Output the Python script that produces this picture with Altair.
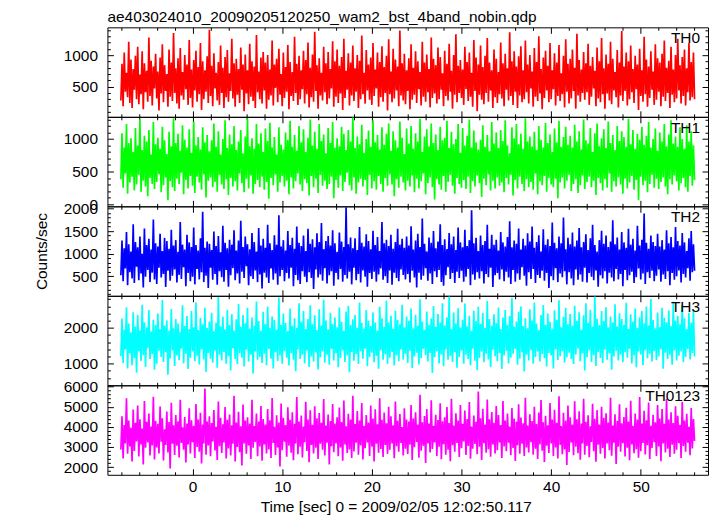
import altair as alt
import numpy as np
import pandas as pd

TITLE = "ae403024010_20090205120250_wam2_bst_4band_nobin.qdp"
Y_TITLE = "Counts/sec"
X_TITLE = "Time [sec] 0 = 2009/02/05 12:02:50.117"

T_START, T_END = -8.0, 56.0

TH0 = [280, 860, 190, 1040, 420, 720, 330, 1210, 240, 930, 160, 780, 450, 990, 300, 1130,
       220, 690, 380, 1060, 140, 870, 410, 750, 260, 1280, 350, 910, 200, 820, 470, 1020,
       310, 740, 120, 960, 390, 1170, 250, 840, 430, 700, 180, 1090, 340, 880, 270, 1350,
       400, 790, 230, 950, 150, 1110, 360, 730, 290, 1000, 460, 850, 210, 1240, 320, 770,
       170, 920, 440, 1070, 260, 810, 380, 1190, 130, 900, 300, 760, 420, 980, 240, 1400,
       350, 830, 190, 1030, 470, 720, 280, 890, 210, 1150, 400, 800, 160, 970, 330, 1080,
       260, 710, 430, 1260, 310, 870, 180, 940, 370, 780, 240, 1120, 450, 850, 110, 1010,
       390, 760, 220, 1180, 340, 900, 270, 820, 160, 1320, 410, 740, 300, 960, 230, 1050,
       440, 880, 150, 1000, 290, 770, 360, 1230, 200, 850, 480, 940, 250, 1100, 370, 700,
       190, 1040, 320, 810, 420, 1160, 140, 890, 350, 730, 270, 1290, 400, 860, 210, 990,
       300, 760, 460, 1070, 230, 920, 380, 1200, 170, 800, 330, 1010, 260, 1370, 430, 840,
       150, 950, 360, 720, 280, 1130, 410, 870, 220, 1050, 310, 780, 470, 1220, 180, 900,
       340, 1090, 240, 830, 390, 970, 130, 1260, 320, 750, 450, 1030, 200, 880, 360, 1150,
       270, 790, 420, 1000, 160, 910, 300, 1310, 380, 720, 230, 1080, 440, 850, 290, 960,
       210, 1190, 350, 770, 470, 1040, 180, 890, 330, 1140, 260, 810, 400, 990, 120, 1250,
       380, 740, 250, 1100, 310, 930, 440, 820, 190, 1390, 360, 870, 280, 1020, 220, 760,
       430, 950, 140, 1170, 290, 800, 370, 1060, 240, 900, 460, 730, 200, 1210, 340, 880,
       260, 1010, 410, 780, 170, 1280, 320, 940, 390, 840, 230, 1120, 300, 970, 450, 710,
       190, 1070, 350, 860, 280, 1180, 420, 750, 150, 1000, 370, 1330, 250, 830, 400, 920,
       320, 770, 210, 1130, 460, 890, 270, 1040, 340, 720, 180, 1240, 430, 960, 110, 850,
       370, 1150, 290, 810, 220, 990, 400, 1270, 260, 880, 440, 760, 160, 1090, 330, 940,
       240, 730, 380, 1200, 310, 870, 190, 1020, 450, 790, 280, 1360, 350, 900, 210, 1060,
       420, 820, 160, 980, 360, 1140, 250, 760, 300, 1230, 410, 850, 230, 1000, 470, 740,
       180, 1110, 340, 890, 270, 1300, 390, 780, 140, 960, 320, 1070, 440, 830, 250, 1190,
       300, 760, 460, 1030, 200, 880, 350, 1160, 270, 710, 380, 990, 170, 1250, 420, 860,
       230, 940, 310, 1090, 430, 800, 150, 1340, 360, 920, 260, 770, 400, 1050, 290, 870,
       410, 1180, 210, 830, 340, 970, 470, 750, 190, 1120, 310, 900, 250, 1270, 380, 790,
       150, 1010, 390, 860, 280, 1210, 220, 940, 440, 730, 330, 1080, 170, 880, 360, 1380,
       270, 820, 430, 1040, 200, 900, 300, 1150, 410, 780, 240, 990, 460, 850, 130, 1100,
       350, 760, 260, 1290, 380, 930, 180, 820, 320, 1060, 450, 740, 210, 1170, 290, 950,
       420, 880, 190, 1020, 340, 1230, 270, 800, 400, 910, 160, 1130, 370, 770, 250, 1000,
       310, 1260, 440, 840, 230, 970, 350, 1090, 200, 790, 410, 1190, 280, 890, 330, 1040,
       300]

TH1 = [380, 1090, 250, 870, 470, 1230, 160, 940, 330, 1010, 420, 800, 210, 1170, 300, 900,
       450, 1300, 190, 830, 360, 1050, 270, 960, 120, 1140, 400, 760, 310, 1260, 230, 920,
       340, 1020, 460, 850, 180, 1190, 290, 980, 410, 770, 60, 1110, 350, 890, 260, 1320,
       200, 940, 390, 1080, 310, 820, 480, 1210, 150, 990, 370, 870, 240, 1150, 430, 790,
       280, 1270, 170, 900, 420, 1030, 330, 840, 220, 1180, 460, 950, 100, 1060, 360, 810,
       410, 980, 260, 1240, 340, 880, 190, 1120, 450, 760, 300, 1000, 230, 1290, 380, 860,
       140, 1070, 400, 920, 270, 1200, 350, 830, 210, 960, 470, 1140, 320, 780, 180, 1040,
       390, 1310, 240, 890, 440, 1010, 160, 850, 310, 1230, 370, 930, 260, 1090, 420, 800,
       220, 1160, 340, 970, 80, 1250, 400, 870, 290, 1030, 460, 760, 190, 1180, 330, 910,
       430, 840, 270, 1100, 360, 990, 150, 1280, 410, 880, 240, 1060, 350, 820, 470, 1200,
       300, 950, 200, 1150, 380, 800, 320, 1020, 130, 1300, 430, 900, 260, 1110, 390, 850,
       170, 1230, 450, 970, 280, 1070, 360, 780, 230, 1170, 310, 940, 420, 1260, 90, 870,
       370, 1010, 250, 890, 440, 1190, 200, 1080, 340, 830, 480, 1140, 290, 960, 210, 1330,
       410, 860, 160, 1040, 330, 920, 390, 1220, 270, 790, 370, 1000, 140, 1130, 450, 880,
       240, 1290, 350, 950, 220, 1060, 430, 840, 310, 1180, 190, 910, 400, 1080, 280, 1240,
       460, 820, 300, 1120, 120, 980, 380, 870, 250, 1270, 420, 1020, 330, 770, 210, 1160,
       360, 930, 270, 1200, 440, 850, 180, 1090, 390, 960, 240, 1310, 350, 800, 470, 1040,
       150, 1150, 320, 890, 410, 1240, 260, 940, 70, 1070, 380, 830, 300, 1190, 220, 980,
       430, 1020, 190, 1280, 340, 860, 450, 1110, 280, 920, 160, 1000, 400, 1230, 310, 790,
       250, 1170, 370, 900, 230, 1050, 420, 1300, 170, 870, 350, 1130, 270, 950, 440, 840,
       320, 990, 110, 1210, 390, 880, 290, 1060, 460, 810, 210, 1260, 360, 930, 240, 1100,
       410, 860, 280, 1140, 330, 970, 180, 1290, 400, 900, 300, 780, 450, 1180, 130, 1010,
       370, 1230, 240, 920, 420, 1080, 310, 850, 200, 1320, 380, 960, 260, 1040, 340, 890,
       220, 1110, 470, 830, 150, 1200, 350, 990, 290, 870, 430, 1250, 190, 940, 400, 1070,
       300, 800, 260, 1160, 390, 950, 90, 1280, 330, 880, 410, 1030, 240, 1190, 360, 910,
       450, 1050, 200, 870, 310, 1220, 380, 960, 170, 1120, 290, 840, 440, 1300, 230, 980,
       340, 930, 420, 1170, 260, 800, 360, 1090, 140, 1240, 400, 890, 320, 1010, 210, 1150,
       380, 860, 250, 1270, 470, 940, 190, 1060, 350, 830, 270, 1200, 410, 970, 300, 1120,
       160, 1030, 390, 880, 240, 1310, 330, 920, 430, 1140, 220, 850, 370, 1080, 60, 990,
       420, 1190, 290, 910, 360, 1050, 180, 1260, 310, 870, 450, 1000, 250, 1160, 390, 820,
       230, 1100, 340, 960, 410, 1230, 270, 890, 150, 1070, 380, 1290, 300, 930, 440, 1040,
       350, 880, 210, 1180, 320, 1000, 400, 850, 260, 1210, 190, 960, 430, 1120, 280, 900,
       370]

TH2 = [520, 1290, 390, 1120, 670, 1480, 300, 1210, 590, 1050, 450, 1650, 350, 1260, 710, 1140,
       410, 1380, 560, 1000, 250, 1560, 490, 1190, 640, 1330, 370, 1090, 580, 1760, 430, 1230,
       330, 1160, 690, 1440, 470, 1060, 550, 1350, 260, 1280, 620, 1110, 400, 1530, 510, 1180,
       650, 1300, 360, 1040, 530, 1700, 440, 1200, 700, 1090, 280, 1420, 570, 1250, 390, 1150,
       490, 1580, 320, 1190, 660, 1070, 430, 1340, 590, 1930, 370, 1130, 510, 1270, 240, 1220,
       690, 1080, 420, 1490, 550, 1170, 310, 1390, 610, 1030, 480, 1620, 380, 1240, 640, 1120,
       270, 1310, 520, 1200, 680, 1520, 410, 1070, 560, 1290, 340, 1730, 600, 1150, 460, 1380,
       720, 1210, 300, 1100, 500, 1460, 440, 1260, 630, 1050, 370, 1570, 540, 1180, 230, 1330,
       580, 1130, 470, 1640, 350, 1230, 670, 1080, 420, 1410, 560, 1200, 310, 1850, 500, 1160,
       640, 1300, 390, 1070, 570, 1500, 450, 1190, 690, 1350, 280, 1110, 530, 1600, 410, 1240,
       330, 1170, 610, 1400, 490, 1060, 370, 1550, 590, 1220, 460, 1320, 220, 1140, 650, 1450,
       470, 1260, 540, 1680, 400, 1100, 680, 1280, 340, 1390, 520, 1180, 610, 1520, 290, 1230,
       570, 1040, 430, 1470, 660, 1270, 380, 1150, 530, 2030, 450, 1210, 600, 1360, 320, 1120,
       690, 1340, 410, 1080, 550, 1590, 360, 1240, 630, 1160, 490, 1430, 270, 1280, 570, 1100,
       440, 1510, 600, 1190, 380, 1370, 540, 1060, 670, 1700, 420, 1230, 500, 1310, 350, 1170,
       630, 1420, 310, 1110, 580, 1260, 460, 1550, 390, 1200, 650, 1330, 530, 1130, 430, 1380,
       550, 1180, 360, 1610, 620, 1090, 470, 1290, 250, 1440, 580, 1150, 420, 1780, 510, 1220,
       680, 1050, 400, 1360, 560, 1240, 330, 1500, 610, 1120, 480, 1270, 640, 1650, 370, 1190,
       290, 1320, 520, 1100, 700, 1460, 440, 1210, 570, 1380, 350, 1080, 600, 1580, 460, 1250,
       620, 1140, 380, 1530, 490, 1170, 660, 1300, 300, 1960, 540, 1230, 420, 1350, 590, 1060,
       450, 1400, 610, 1190, 340, 1280, 550, 1640, 480, 1110, 690, 1420, 260, 1200, 520, 1310,
       570, 1070, 430, 1480, 650, 1250, 390, 1160, 600, 1370, 470, 1720, 330, 1140, 640, 1290,
       380, 1220, 560, 1560, 420, 1090, 700, 1330, 510, 1180, 290, 1450, 590, 1270, 440, 1600,
       660, 1130, 350, 1260, 530, 1410, 460, 1050, 620, 1540, 400, 1200, 570, 1320, 240, 1170,
       500, 1690, 410, 1240, 680, 1120, 370, 1380, 560, 1230, 480, 1800, 610, 1100, 320, 1350,
       590, 1210, 450, 1470, 300, 1160, 650, 1290, 420, 1570, 540, 1140, 380, 1260, 690, 1430,
       360, 1080, 570, 1340, 490, 1640, 410, 1190, 630, 1050, 270, 1300, 520, 1510, 450, 1220,
       610, 1400, 340, 1150, 580, 1270, 470, 1740, 390, 1210, 660, 1360, 430, 1090, 550, 1480,
       280, 1250, 640, 1130, 410, 1550, 520, 1200, 600, 1330, 350, 1070, 480, 1620, 670, 1180,
       430, 1310, 560, 1890, 330, 1240, 590, 1110, 460, 1400, 620, 1260, 390, 1170, 510, 1440,
       650, 1160, 380, 1300, 540, 1090, 440, 1520, 610, 1230, 300, 1370, 570, 1140, 420, 1590,
       500, 1280, 630, 1180, 360, 1460, 550, 1250, 470, 1060, 680, 1340, 400, 1500, 590, 1210,
       620]

TH3 = [1210, 2260, 1020, 1950, 1400, 2580, 870, 2120, 1290, 1880, 960, 2440, 1160, 2040, 750, 2360,
       1350, 1930, 1080, 2650, 1240, 2160, 910, 2010, 1430, 2500, 1130, 1900, 1270, 2230, 830, 2090,
       1000, 2400, 1360, 1960, 1190, 2780, 1050, 2070, 1320, 2210, 690, 1920, 1150, 2530, 1380, 1990,
       940, 2250, 1230, 2120, 1100, 1890, 1420, 2630, 1010, 2050, 1280, 2330, 850, 1970, 1170, 2470,
       1340, 2020, 1070, 2720, 1220, 1940, 980, 2280, 1400, 2100, 1120, 2560, 770, 2000, 1300, 2180,
       1140, 2420, 1030, 1910, 1370, 2150, 890, 2860, 1250, 2040, 1090, 2310, 1330, 1960, 1000, 2510,
       1210, 2080, 810, 2380, 1430, 1920, 1130, 2240, 990, 2670, 1290, 2030, 1170, 2360, 920, 2130,
       1390, 2560, 1060, 1980, 1250, 2290, 730, 2060, 1340, 2740, 1110, 2190, 1190, 1930, 1020, 2450,
       1280, 2110, 960, 2600, 1410, 2000, 1140, 2320, 870, 2220, 1320, 1950, 1080, 2850, 1230, 2080,
       1000, 2400, 1360, 2140, 1170, 1910, 950, 2540, 1290, 2060, 1110, 2270, 790, 2000, 1400, 2690,
       1130, 2170, 1250, 2470, 1010, 1970, 1370, 2250, 910, 2630, 1200, 2100, 1060, 2350, 1320, 1940,
       840, 2520, 1180, 2070, 1340, 2790, 1030, 2210, 1250, 1960, 970, 2420, 1410, 2110, 1090, 2290,
       1290, 2020, 900, 2570, 1160, 2170, 1380, 1920, 1050, 2460, 1230, 2620, 760, 2080, 1330, 2240,
       1080, 2360, 1270, 2000, 990, 2710, 1350, 2140, 1140, 1980, 1420, 2500, 930, 2200, 1190, 2050,
       1310, 2430, 1040, 2150, 1220, 1930, 860, 2590, 1380, 2270, 1110, 2030, 1260, 2760, 1000, 2160,
       1170, 2340, 1330, 1980, 950, 2480, 1240, 2220, 1070, 2100, 1390, 2650, 1120, 2010, 1280, 2320,
       1020, 2200, 1360, 2540, 880, 1990, 1200, 2370, 1310, 2060, 980, 2800, 1150, 2180, 1410, 1950,
       1240, 2460, 1060, 2090, 1300, 2260, 740, 2610, 1180, 2030, 1350, 2390, 1010, 2150, 1260, 2690,
       930, 2070, 1400, 2300, 1110, 2880, 1220, 1960, 1050, 2430, 1320, 2120, 890, 2550, 1190, 2010,
       1370, 2230, 1000, 2680, 1250, 2040, 1130, 2340, 960, 1920, 1420, 2480, 1080, 2190, 820, 2590,
       1160, 2110, 1340, 2420, 1040, 2000, 1280, 2750, 1120, 2250, 900, 2060, 1390, 2380, 1210, 2140,
       1070, 2570, 1300, 1970, 850, 2290, 1230, 2500, 1360, 2080, 1010, 2330, 1170, 2840, 1280, 2030,
       1410, 2180, 970, 2450, 1140, 2600, 1320, 2050, 780, 2270, 1250, 1990, 1090, 2520, 1380, 2210,
       1000, 2710, 1190, 2120, 1340, 1940, 1060, 2360, 1270, 2640, 1150, 2090, 920, 2400, 1300, 2170,
       1230, 1980, 870, 2490, 1400, 2230, 1100, 2770, 1210, 2020, 1350, 2310, 1030, 2560, 1180, 2100,
       1310, 2390, 1130, 2060, 990, 2620, 1260, 2200, 1420, 2440, 1070, 1950, 1290, 2350, 810, 2690,
       1180, 2140, 1370, 2510, 1050, 2030, 1240, 2880, 940, 2260, 1330, 2080, 1160, 2470, 1020, 2190,
       1390, 2580, 1110, 2010, 1290, 2320, 830, 2150, 1200, 2660, 1360, 2040, 1090, 2410, 1250, 2250,
       1040, 2090, 1320, 2700, 1170, 1970, 1410, 2380, 1010, 2180, 1230, 2540, 900, 2000, 1340, 2300,
       1260, 2470, 960, 2130, 1380, 2600, 1150, 2070, 1280, 2810, 1060, 2220, 1350, 1990, 1100, 2430,
       1200, 2020, 1400, 2560, 860, 2280, 1310, 2160, 1130, 2490, 1250, 2050, 970, 2730, 1370, 2200,
       1090, 2340, 1220, 2100, 1340, 2640, 1040, 2270, 1190, 1960, 1410, 2420, 1120, 2150, 1300, 2500,
       1200]

TH0123 = [2880, 4520, 2430, 4090, 3180, 5420, 2660, 4310, 3030, 3960, 2280, 4860, 2800, 4200, 3280, 5060,
          2530, 4380, 3130, 3920, 2130, 5280, 2960, 4250, 3230, 4660, 2580, 4020, 3080, 5500, 2380, 4300,
          2980, 4150, 2680, 5010, 3260, 4430, 2330, 3880, 3100, 4760, 2730, 4240, 1930, 5200, 3160, 4080,
          2600, 4590, 3060, 4280, 2480, 5350, 3200, 3980, 2860, 4490, 2230, 4160, 3130, 4920, 2680, 4330,
          3240, 4050, 2460, 5140, 3000, 4370, 2760, 4700, 2180, 4120, 3180, 5900, 2620, 4260, 3080, 4520,
          2540, 4190, 3280, 4840, 2830, 4000, 2360, 5260, 3040, 4450, 2700, 4130, 3220, 4980, 2430, 4350,
          2930, 4610, 2580, 4080, 3160, 5550, 2280, 4220, 3000, 4750, 2740, 4030, 2080, 5110, 3180, 4310,
          2660, 4470, 3080, 4170, 2400, 5340, 2960, 4040, 3250, 4660, 2540, 4270, 3030, 5040, 2320, 4390,
          3130, 4110, 2680, 4880, 2880, 4330, 2460, 5430, 3200, 4000, 2600, 4570, 2980, 4220, 2030, 5160,
          2840, 4450, 3260, 4090, 2520, 4970, 3060, 4350, 2720, 4730, 2340, 4150, 3170, 5480, 2640, 4270,
          3020, 4560, 2480, 4020, 3240, 5240, 2800, 4370, 2240, 4820, 3100, 4100, 2680, 5020, 2960, 4430,
          2400, 4690, 3160, 4200, 2860, 5380, 2580, 4060, 3220, 4610, 2130, 4290, 3040, 5140, 2740, 4170,
          3180, 4480, 2540, 4960, 2980, 4240, 2320, 5310, 3120, 4030, 2700, 4650, 2880, 4360, 2460, 5550,
          2780, 4140, 3210, 4790, 2620, 4320, 3080, 5190, 2380, 4050, 2940, 4590, 3230, 4210, 2560, 5060,
          3020, 4410, 2280, 4870, 3160, 4130, 2720, 5420, 2900, 4350, 2500, 4710, 3100, 4180, 2660, 5000,
          2860, 4530, 3180, 4080, 2440, 5260, 3040, 4300, 2760, 4640, 3200, 3990, 2580, 4920, 2920, 4370,
          2650, 4260, 3110, 5080, 2350, 4420, 2990, 4720, 3250, 4110, 2470, 5600, 2820, 4230, 3060, 4540,
          2210, 4890, 3170, 4160, 2730, 5320, 2900, 4050, 3230, 4600, 2550, 4340, 3010, 5170, 2390, 4280,
          3140, 4470, 2620, 4980, 2870, 4190, 2290, 5400, 3090, 4060, 2770, 4680, 3200, 4310, 2500, 5090,
          2940, 4150, 3270, 4810, 2600, 4390, 3050, 5230, 2420, 4020, 2910, 4560, 3150, 4250, 2640, 5750,
          3010, 4430, 2360, 4900, 3190, 4120, 2710, 5360, 2890, 4380, 2520, 4740, 3120, 4200, 2680, 5030,
          2840, 4590, 3220, 4090, 2450, 5280, 3030, 4320, 2790, 4660, 3210, 4010, 2590, 4940, 2950, 4410,
          2300, 4250, 3090, 5120, 2670, 4460, 3160, 4180, 2560, 5450, 2980, 4070, 2730, 4620, 3240, 4290,
          2620, 5000, 2920, 4140, 2400, 4710, 3130, 5330, 2810, 4230, 2250, 4550, 3060, 4080, 2700, 5180,
          3180, 4360, 2560, 4850, 2980, 4200, 2430, 5520, 3100, 4040, 2640, 4700, 2880, 4310, 2110, 5060,
          2750, 4480, 3230, 4110, 2590, 5270, 3010, 4380, 2690, 4770, 2370, 4160, 3180, 5390, 2620, 4250,
          3050, 4580, 2490, 4030, 3250, 5150, 2790, 4400, 2270, 4830, 3110, 4120, 2670, 5000, 2950, 4450,
          2430, 4670, 3170, 4220, 2840, 5440, 2570, 4070, 3210, 4630, 2160, 4300, 3020, 5120, 2760, 4180,
          3190, 4490, 2530, 4950, 2970, 4260, 2340, 5290, 3130, 4050, 2690, 4660, 2890, 4370, 2470, 5480,
          2790, 4160, 3200, 4800, 2630, 4330, 3090, 5210, 2410, 4060, 2950, 4600, 3240, 4230, 2550, 5080,
          3030, 4420, 2290, 4880, 3170, 4150, 2730, 5380, 2910, 4360, 2510, 4730, 3110, 4190, 2670, 5020,
          2870, 4550, 3190, 4100, 2450, 5250, 3050, 4320, 2770, 4650, 3210, 4000, 2590, 4930, 2930, 4390,
          3300]

SERIES = [TH0, TH1, TH2, TH3, TH0123]
PANEL_NAMES = ["TH0", "TH1", "TH2", "TH3", "TH0123"]
COLORS = ["#ff0000", "#00ff00", "#0000ff", "#00ffff", "#ff00ff"]
Y_DOMAINS = [[20, 1440], [-35, 1341], [66, 2050], [397, 2897], [1620, 6064]]
Y_MAJOR = [[500, 1000], [0, 500, 1000], [500, 1000, 1500, 2000], [1000, 2000],
           [2000, 3000, 4000, 5000, 6000]]
Y_MINOR_STEP = [100, 100, 100, 200, 200]
X_DOMAIN = [-9.5, 57.5]
X_MAJOR = [0, 10, 20, 30, 40, 50]
X_MINOR_STEP = 2

FONT = "Liberation Sans"
FS = 15.5
W, H = 604, 90
MAJ, MIN = 6, 3


def minor_ticks(domain, step, majors):
    lo = int(np.ceil(domain[0] / step)) * step
    hi = int(np.floor(domain[1] / step)) * step
    return [v for v in range(lo, hi + 1, step) if v not in majors]


X_MINOR = minor_ticks([int(np.ceil(X_DOMAIN[0])), int(np.floor(X_DOMAIN[1]))], X_MINOR_STEP, X_MAJOR)


def ax(vals, orient, size, **kw):
    return alt.Axis(values=vals, orient=orient, tickSize=size, offset=-size, domain=False,
                    grid=False, tickColor="black", tickWidth=1, format="d", **kw)


def panel(i):
    vals = SERIES[i]
    n = len(vals)
    dt = (T_END - T_START) / (n - 1)
    df = pd.DataFrame({"t": [T_START + k * dt for k in range(n)], "v": vals})
    xs = alt.Scale(domain=X_DOMAIN, nice=False, zero=False)
    ys = alt.Scale(domain=Y_DOMAINS[i], nice=False, zero=False)
    last = i == len(SERIES) - 1
    ymin = minor_ticks(Y_DOMAINS[i], Y_MINOR_STEP[i], Y_MAJOR[i])

    xmain_kw = dict(labels=last, labelFlush=False, labelPadding=5, title=None)
    if last:
        xmain_kw.update(title=X_TITLE, titlePadding=4, titleX=290)
    ymain_kw = dict(labels=True, labelPadding=10, title=None)
    if i == 2:
        ymain_kw.update(title=Y_TITLE, titlePadding=14)

    line = alt.Chart(df).mark_line(color=COLORS[i], strokeWidth=1.7, clip=True).encode(
        x=alt.X("t:Q", scale=xs, axis=ax(X_MAJOR, "bottom", MAJ, **xmain_kw)),
        y=alt.Y("v:Q", scale=ys, axis=ax(Y_MAJOR[i], "left", MAJ, **ymain_kw)),
    )
    ghost_df = pd.DataFrame({"t": [0.0], "v": [float(np.mean(Y_DOMAINS[i]))]})
    layers = [line]
    extra = [
        (X_MINOR, "bottom", MIN, ymin, "left", MIN),
        (X_MAJOR, "top", MAJ, Y_MAJOR[i], "right", MAJ),
        (X_MINOR, "top", MIN, ymin, "right", MIN),
    ]
    for xv, xo, xsz, yv, yo, ysz in extra:
        layers.append(
            alt.Chart(ghost_df).mark_point(opacity=0).encode(
                x=alt.X("t:Q", scale=xs, axis=ax(xv, xo, xsz, labels=False, title=None)),
                y=alt.Y("v:Q", scale=ys, axis=ax(yv, yo, ysz, labels=False, title=None)),
            )
        )
    label = alt.Chart(pd.DataFrame({"label": [PANEL_NAMES[i]]})).mark_text(
        align="right", baseline="alphabetic", font=FONT, fontSize=FS, color="black"
    ).encode(x=alt.value(W - 8), y=alt.value(16), text="label:N")
    layers.append(label)

    ch = alt.layer(*layers).resolve_axis(x="independent", y="independent").properties(width=W, height=H)
    if i == 0:
        ch = ch.properties(title=alt.TitleParams(text=TITLE, anchor="start", frame="group",
                                                 font=FONT, fontSize=FS, fontWeight="normal",
                                                 color="black", offset=1))
    return ch


chart = alt.vconcat(*[panel(i) for i in range(len(SERIES))], spacing=0, bounds="flush").properties(
    padding={"left": 26, "top": 0, "right": 0, "bottom": 0}
).configure_view(stroke="black", strokeWidth=1).configure_axis(
    labelFont=FONT, labelFontSize=FS, labelColor="black",
    titleFont=FONT, titleFontSize=FS, titleFontWeight="normal", titleColor="black",
)

chart.save("out.html", embed_options={"renderer": "svg", "actions": False})
